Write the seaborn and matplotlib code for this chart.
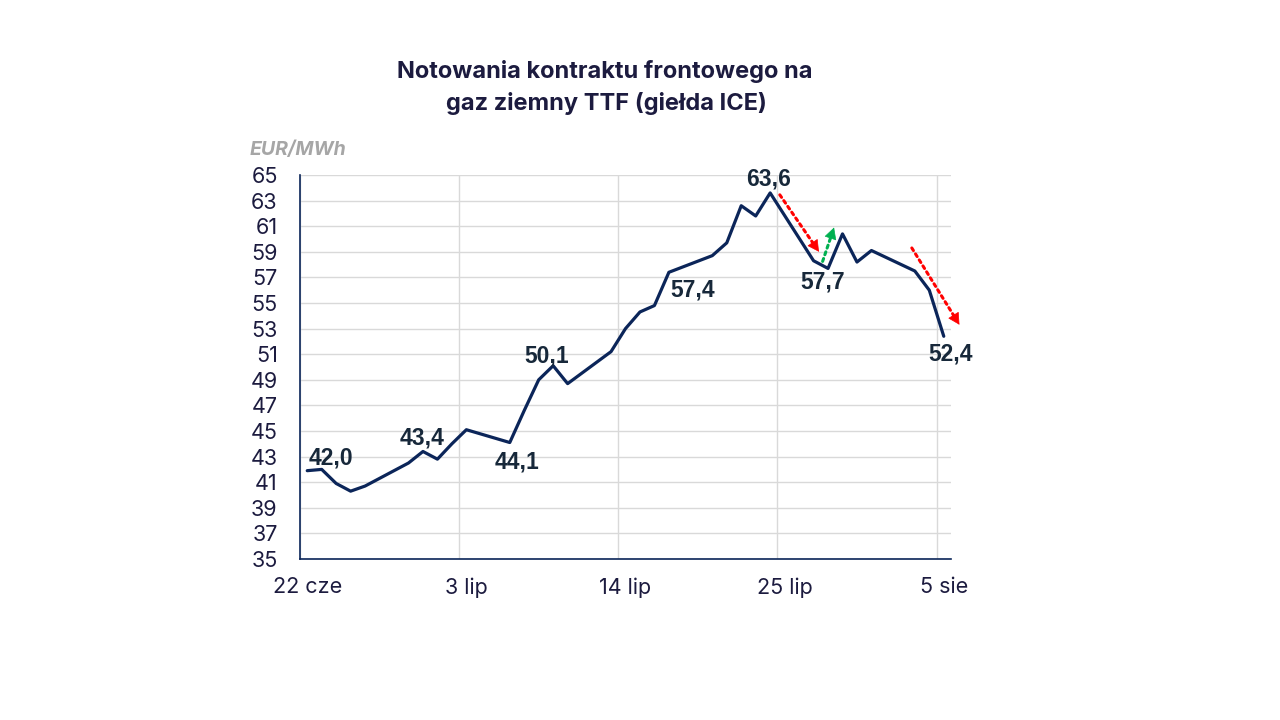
import numpy as np
import pandas as pd
import matplotlib.pyplot as plt
import matplotlib.dates as mdates
import seaborn as sns

# DATA (trading days, EUR/MWh)
dates = [
    "2026-06-22", "2026-06-23", "2026-06-24", "2026-06-25", "2026-06-26",
    "2026-06-29", "2026-06-30", "2026-07-01", "2026-07-02", "2026-07-03",
    "2026-07-06", "2026-07-07", "2026-07-08", "2026-07-09", "2026-07-10",
    "2026-07-13", "2026-07-14", "2026-07-15", "2026-07-16", "2026-07-17",
    "2026-07-20", "2026-07-21", "2026-07-22", "2026-07-23", "2026-07-24",
    "2026-07-27", "2026-07-28", "2026-07-29", "2026-07-30", "2026-07-31",
    "2026-08-03", "2026-08-04", "2026-08-05",
]
prices = [
    41.9, 42.0, 40.9, 40.3, 40.7,
    42.5, 43.4, 42.8, 44.0, 45.1,
    44.1, 46.6, 49.0, 50.1, 48.7,
    51.2, 53.0, 54.3, 54.8, 57.4,
    58.7, 59.7, 62.6, 61.8, 63.6,
    58.3, 57.7, 60.4, 58.2, 59.1,
    57.5, 56.0, 52.4,
]

tick_dates = ["2026-06-22", "2026-07-03", "2026-07-14", "2026-07-25", "2026-08-05"]
tick_labels = ["22 cze", "3 lip", "14 lip", "25 lip", "5 sie"]

# labelled points
label_dates = ["2026-06-23", "2026-06-30", "2026-07-06", "2026-07-09",
               "2026-07-17", "2026-07-24", "2026-07-28", "2026-08-05"]

# COLOURS
NAVY = "#0b2559"
TEXT = "#1c1b3f"
LABEL = "#17283a"

df = pd.DataFrame({"date": pd.to_datetime(dates) + pd.Timedelta(hours=12),
                   "price": prices})

sns.set_theme(style="whitegrid")

fig = plt.figure(figsize=(12.8, 7.2), dpi=100)
ax = fig.add_axes([300 / 1280, 1 - 559 / 720, 651 / 1280, 384 / 720])

sns.lineplot(data=df, x="date", y="price", ax=ax, color=NAVY, linewidth=2.3)

# AXES
ax.set_xlim(pd.Timestamp("2026-06-22"), pd.Timestamp("2026-08-06"))
ax.set_ylim(35, 65)
ax.set_yticks(range(35, 66, 2))
ax.set_xlabel("")
ax.set_ylabel("")

major = pd.to_datetime(tick_dates)
ax.set_xticks(major)
ax.set_xticklabels([""] * len(major))
ax.set_xticks(major + pd.Timedelta(hours=12), minor=True)
ax.set_xticklabels(tick_labels, minor=True)

ax.tick_params(axis="x", which="both", length=0, pad=13)
ax.tick_params(axis="y", length=0, pad=16)
for lab in ax.get_xticklabels(minor=True) + ax.get_yticklabels():
    lab.set_fontfamily("Inter")
    lab.set_fontsize(15.5)
    lab.set_color(TEXT)

ax.grid(which="major", color="#d9d9d9", linewidth=1)
ax.grid(which="minor", visible=False)
ax.set_facecolor("white")
for side in ["top", "right"]:
    ax.spines[side].set_visible(False)
for side in ["left", "bottom"]:
    ax.spines[side].set_color(NAVY)
    ax.spines[side].set_linewidth(1.2)

# DATA LABELS
offsets = [(7, 8), (-1, 10), (5, -14), (-5, 7), (17, -13), (-1, 10), (-4, -10), (5, -13)]
for d, (dx, dy) in zip(label_dates, offsets):
    row = df[df["date"].dt.strftime("%Y-%m-%d") == d].iloc[0]
    txt = f"{row['price']:.1f}".replace(".", ",")
    ax.annotate(txt, (row["date"], row["price"]), xytext=(dx, dy),
                textcoords="offset points", ha="center", va="center",
                fontsize=16.5, fontweight="bold", color=LABEL,
                family="Liberation Sans")

# TREND ARROWS (dotted shaft, solid head)
arrows = [
    (("2026-07-25 04:00", 63.45), ("2026-07-27 21:00", 59.0), "#ff0000"),
    (("2026-07-28 03:00", 58.25), ("2026-07-28 22:00", 60.9), "#00b050"),
    (("2026-08-03 07:00", 59.3), ("2026-08-06 14:00", 53.3), "#ff0000"),
]
head_px = 0.75 * 10 * 100 / 72
for (d0, v0), (d1, v1), col in arrows:
    p0 = np.array([mdates.date2num(pd.Timestamp(d0)), v0])
    p1 = np.array([mdates.date2num(pd.Timestamp(d1)), v1])
    s0 = ax.transData.transform(p0)
    s1 = ax.transData.transform(p1)
    frac = head_px / np.hypot(*(s1 - s0))
    base = p1 - (p1 - p0) * frac
    ax.annotate("", xy=base, xytext=p0, annotation_clip=False,
                arrowprops=dict(arrowstyle="-", color=col, linewidth=2.2,
                                linestyle=(0, (1, 1.3)), shrinkA=0, shrinkB=0))
    ax.annotate("", xy=p1, xytext=base, annotation_clip=False,
                arrowprops=dict(arrowstyle="-|>,head_length=0.75,head_width=0.4",
                                mutation_scale=10, color=col, linewidth=0.5,
                                shrinkA=0, shrinkB=0))

# TITLE AND UNIT
fig.text(605 / 1280, 1 - 78 / 720, "Notowania kontraktu frontowego na",
         ha="center", va="baseline", fontsize=17, fontweight="bold",
         color=TEXT, family="Inter")
fig.text(606 / 1280, 1 - 110 / 720, "gaz ziemny TTF (giełda ICE)",
         ha="center", va="baseline", fontsize=17, fontweight="bold",
         color=TEXT, family="Inter")
fig.text(250 / 1280, 1 - 155 / 720, "EUR/MWh", ha="left", va="baseline",
         fontsize=14, fontweight="bold", fontstyle="italic",
         color="#a6a6a6", family="Inter")

fig.savefig("out.png", dpi=100, facecolor="white")
